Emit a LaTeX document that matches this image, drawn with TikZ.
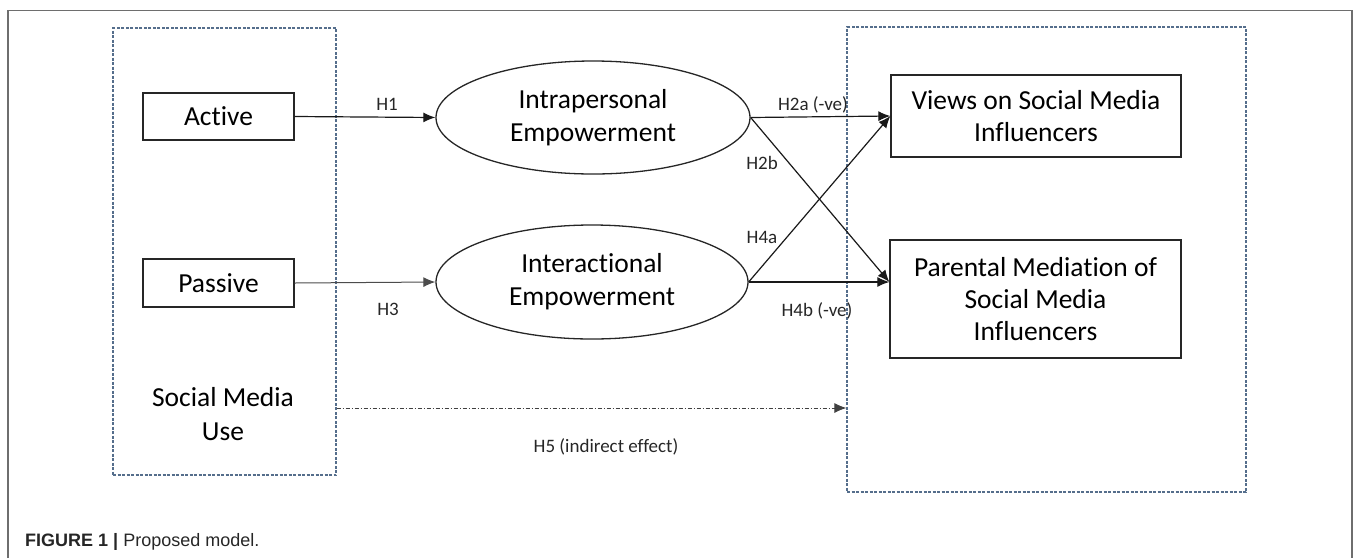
\documentclass[tikz,border=0pt]{standalone}
\usepackage{fontspec}
\setmainfont{Carlito}[Ligatures={NoCommon}]
\newfontfamily\capfont{Liberation Sans}
\usetikzlibrary{arrows.meta,shapes.geometric}
\definecolor{dashblue}{RGB}{85,110,140}
\definecolor{framegray}{RGB}{110,110,110}
\tikzset{
  grp/.style={draw=dashblue, line width=1.1pt, dash pattern=on 3pt off 1.5pt, rectangle, inner sep=0pt},
  box/.style={draw=black!85, line width=1.3pt, rectangle, fill=white, inner sep=0pt, align=center,
     font=\fontsize{27.5}{32}\selectfont},
  ell/.style={draw=black!85, line width=1.3pt, ellipse, inner sep=0pt, align=center,
     font=\fontsize{27.5}{33}\selectfont},
  arr/.style={draw=black!90, line width=1.2pt, -{Latex[length=12pt,width=10pt]}},
  lab/.style={font=\fontsize{19}{22}\selectfont, inner sep=0pt, text=black!85},
}
\begin{document}
\begin{tikzpicture}[x=1pt,y=-1pt]
\useasboundingbox (0,0) rectangle (1358,558);
% outer frame
\draw[framegray, line width=1.6pt] (8,558) -- (8,10.5) -- (1352,10.5) -- (1352,558);
% groups
\node[grp, minimum width=223pt, minimum height=447pt] (lbox) at (224.5,251.5) {};
\node[grp, minimum width=399pt, minimum height=465pt] (rbox) at (1046.5,259.5) {};
% nodes
\node[box, minimum width=151pt, minimum height=47pt] (active) at (218.5,116.5) {Active};
\node[box, minimum width=151pt, minimum height=48pt] (passive) at (218.5,283) {Passive};
\node[ell, minimum width=314pt, minimum height=113pt] (intra) at (593,117.5) {Intrapersonal\\Empowerment};
\node[ell, minimum width=312pt, minimum height=114pt] (inter) at (592,282) {Interactional\\Empowerment};
\node[box, minimum width=290pt, minimum height=82pt] (views) at (1036,116) {Views on Social Media\\Influencers};
\node[box, minimum width=291pt, minimum height=118pt] (parental) at (1035.5,299) {Parental Mediation of\\Social Media\\Influencers};
\node[align=center, font=\fontsize{27.5}{34}\selectfont, inner sep=0pt] (smu) at (223,414) {Social Media\\Use};
% connectors
\draw[arr] (active.east) -- (intra.west);
\draw[arr, draw=black!70, line width=1pt] (passive.east) -- (inter.west);
\draw[arr] (intra.east) -- (views.west);
\draw[arr] (intra.east) -- (parental.west |- inter.east);
\draw[arr] (inter.east) -- (views.west);
\draw[arr] (inter.east) -- (parental.west |- inter.east);
\coordinate (h5s) at (lbox.east |- 0,408);
\coordinate (h5e) at (rbox.west |- 0,408);
\draw[arr, draw=black!75, line width=1pt, dash pattern=on 4pt off 2pt on 1pt off 2pt] (h5s) -- (h5e);
% labels
\node[lab] (l1) at (387,104) {H1};
\node[lab] (l3) at (388,309) {H3};
\node[lab] (l2a) at (813,105) {H2a (-ve)};
\node[lab] (l2b) at (762,163) {H2b};
\node[lab] (l4a) at (762,237) {H4a};
\node[lab] (l4b) at (817,311) {H4b (-ve)};
\node[lab] (l5) at (606,447) {H5 (indirect effect)};
% caption
\node[anchor=base west, inner sep=0pt, font=\capfont\fontsize{18}{20}\selectfont, text=black!85] (cap) at (25,546) {\textbf{FIGURE 1 |} Proposed model.};
\end{tikzpicture}
\end{document}
